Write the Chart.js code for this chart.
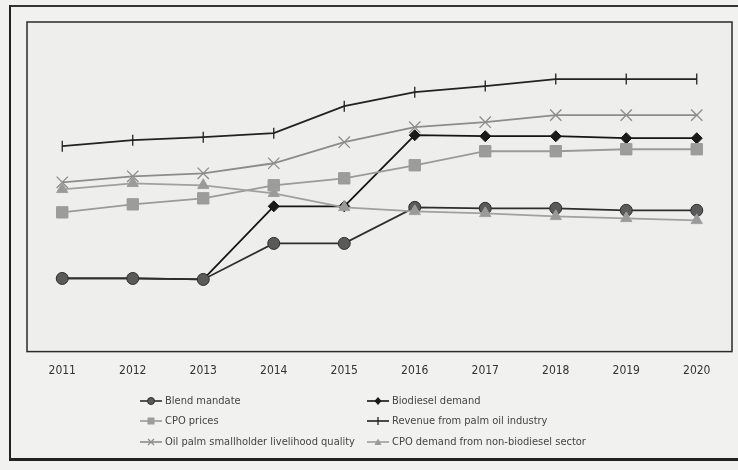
<!DOCTYPE html>
<html>
<head>
<meta charset="utf-8">
<script src="https://cdn.jsdelivr.net/npm/chart.js@4/dist/chart.umd.min.js"></script>
<style>
  html,body{margin:0;padding:0;background:#f1f1ef;}
  #wrap{position:relative;width:738px;height:470px;overflow:hidden;}
  #frame{position:absolute;left:9px;top:5px;width:740px;height:451px;border-left:2px solid #222;border-top:2px solid #333;border-bottom:3px solid #222;}
  canvas{position:absolute;left:0;top:0;}
  #legend{position:absolute;left:0;top:0;width:738px;height:470px;pointer-events:none;
    font-family:"Liberation Sans Narrow","DejaVu Sans Condensed","Open Sans",sans-serif;font-size:11px;color:#444;}
  .item{position:absolute;display:flex;align-items:center;white-space:nowrap;}
  .item svg{margin-right:3px;}
</style>
</head>
<body>
<div id="wrap">
  <div id="frame"></div>
  <canvas id="c" width="738" height="470"></canvas>
  <div id="legend"></div>
</div>
<script>
const years = ["2011","2012","2013","2014","2015","2016","2017","2018","2019","2020"];
// values on an arbitrary index scale (0 = bottom of plot, 329 = top)
const blendMandate      = [73, 73, 72, 108, 108, 144, 143, 143, 141, 141];
const biodieselDemand   = [73, 73, 72, 145, 145, 216, 215, 215, 213, 213];
const cpoPrices         = [139, 147, 153, 166, 173, 186, 200, 200, 202, 202];
const revenue           = [205, 211, 214, 218, 245, 259, 265, 272, 272, 272];
const smallholder       = [169, 175, 178, 188, 209, 224, 229, 236, 236, 236];
const cpoNonBiodiesel   = [162, 168, 166, 158, 144, 140, 138, 135, 133, 131];
const seriesNames = ["Blend mandate","Biodiesel demand","CPO prices","Revenue from palm oil industry",
  "Oil palm smallholder livelihood quality","CPO demand from non-biodiesel sector"];

const styles = [
  {line:"#2e2e2e", fill:"#5a5a5a", point:"circle", r:6, rot:0},
  {line:"#151515", fill:"#1a1a1a", point:"rectRot", r:5.5, rot:0},
  {line:"#9a9a9a", fill:"#9c9c9c", point:"rect", r:8, rot:0},
  {line:"#222222", fill:"#222222", point:"line", r:5.5, rot:90},
  {line:"#8c8c8c", fill:"#8c8c8c", point:"crossRot", r:8, rot:0},
  {line:"#a0a0a0", fill:"#9a9a9a", point:"triangle", r:6.5, rot:0}
];
const allData = [blendMandate, biodieselDemand, cpoPrices, revenue, smallholder, cpoNonBiodiesel];

// draw order: light series under dark ones
const order = [5,2,4,3,0,1];
const datasets = order.map(i => ({
  label: seriesNames[i],
  data: allData[i],
  borderColor: styles[i].line,
  backgroundColor: styles[i].fill,
  pointBackgroundColor: styles[i].fill,
  pointBorderColor: (styles[i].point==="crossRot"||styles[i].point==="line") ? styles[i].fill : styles[i].line,
  pointBorderWidth: (styles[i].point==="crossRot"||styles[i].point==="line") ? 1.3 : 1,
  pointStyle: styles[i].point,
  pointRadius: styles[i].r,
  pointRotation: styles[i].rot,
  borderWidth: 1.8,
  tension: 0,
  fill: false
}));

const frame = {
  id:'frame',
  beforeDraw(chart){
    const {ctx, chartArea:a} = chart;
    ctx.save();
    ctx.fillStyle = "#eeeeec";
    ctx.fillRect(a.left, a.top, a.right-a.left, a.bottom-a.top);
    ctx.restore();
  },
  afterDraw(chart){
    const {ctx, chartArea:a} = chart;
    ctx.save();
    ctx.strokeStyle = "#2a2a2a";
    ctx.lineWidth = 1.5;
    ctx.strokeRect(a.left, a.top, a.right-a.left, a.bottom-a.top);
    ctx.restore();
  }
};

new Chart(document.getElementById('c'), {
  type:'line',
  data:{labels:years, datasets},
  options:{
    responsive:false, animation:false,
    layout:{autoPadding:false, padding:{left:27, right:6, top:22, bottom:80}},
    plugins:{legend:{display:false}, tooltip:{enabled:false}},
    scales:{
      x:{offset:true, grid:{display:false, drawTicks:false}, border:{display:false},
         ticks:{color:"#333", padding:12, font:{family:"Liberation Sans Narrow, DejaVu Sans Condensed, sans-serif", size:12}}},
      y:{display:false, min:0, max:329}
    }
  },
  plugins:[frame]
});

// HTML legend, two columns x three rows
const legendPos = [[140,401],[367,401],[140,421],[367,421],[140,442],[367,442]];
const legend = document.getElementById('legend');
function markerSvg(s){
  let m = "";
  const c = s.fill, l = s.line;
  if(s.point==="circle") m = `<circle cx="11" cy="6" r="3.5" fill="${c}" stroke="${l}"/>`;
  if(s.point==="rectRot") m = `<polygon points="11,2 14.5,6 11,10 7.5,6" fill="${c}"/>`;
  if(s.point==="rect") m = `<rect x="7.5" y="2.5" width="7" height="7" fill="${c}"/>`;
  if(s.point==="line") m = `<line x1="11" y1="2" x2="11" y2="10" stroke="${c}" stroke-width="1.3"/>`;
  if(s.point==="crossRot") m = `<path d="M8,3 L14,9 M14,3 L8,9" stroke="${c}" stroke-width="1.3"/>`;
  if(s.point==="triangle") m = `<polygon points="11,2.5 14.5,9 7.5,9" fill="${c}"/>`;
  return `<svg width="22" height="12"><line x1="0" y1="6" x2="22" y2="6" stroke="${l}" stroke-width="1.6"/>${m}</svg>`;
}
seriesNames.forEach((n,i)=>{
  const d = document.createElement('div');
  d.className='item';
  d.style.left = legendPos[i][0]+'px';
  d.style.top = (legendPos[i][1]-7)+'px';
  d.innerHTML = markerSvg(styles[i]) + `<span>${n}</span>`;
  legend.appendChild(d);
});
</script>
</body>
</html>
